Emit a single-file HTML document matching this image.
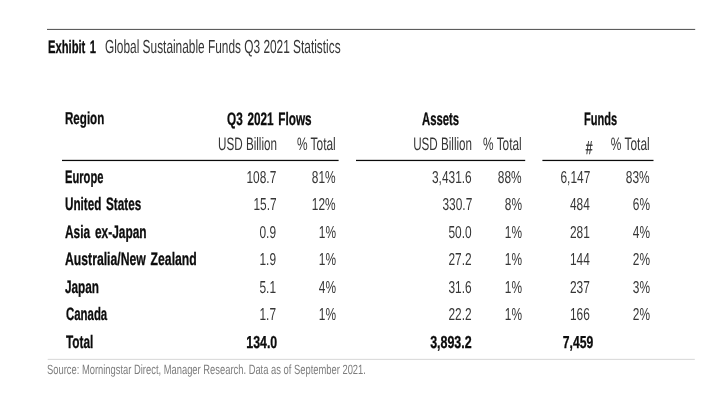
<!DOCTYPE html>
<html lang="en">
<head>
<meta charset="utf-8">
<title>Exhibit 1 Global Sustainable Funds Q3 2021 Statistics</title>
<style>
html,body{margin:0;padding:0;background:#fff;}
#c{position:relative;width:725px;height:400px;overflow:hidden;background:#fff;font-family:"Liberation Sans", sans-serif;will-change:transform;}
#c span{position:absolute;white-space:pre;line-height:1;text-rendering:geometricPrecision;}
#c i{position:absolute;display:block;}
.l{transform-origin:0 0;}
.r{transform-origin:100% 0;}
.b{font-weight:700;-webkit-text-stroke:0.3px currentColor;word-spacing:0.12em;}
</style>
</head>
<body>
<div id="c">
<svg width="725" height="400" viewBox="0 0 725 400" style="position:absolute;left:0;top:0">
<rect x="47.0" y="28.9" width="648.2" height="1.0" fill="#4c4c4c"/>
<rect x="62.0" y="159.825" width="276.6" height="1.25" fill="#0a0a0a"/>
<rect x="356.0" y="159.825" width="169.2" height="1.25" fill="#0a0a0a"/>
<rect x="542.4" y="159.825" width="111.1" height="1.25" fill="#0a0a0a"/>
<rect x="47.7" y="358.85" width="647.1" height="1.0" fill="#d6d6d6"/>
</svg>
<span class="l b" style="left:48.02px;top:38px;font-size:18.0px;color:#0c0c0c;transform:scaleX(0.6225)">Exhibit 1</span>
<span class="l" style="left:104.87px;top:39px;font-size:18.9px;color:#363636;transform:scaleX(0.6285)">Global Sustainable Funds Q3 2021 Statistics</span>
<span class="l b" style="left:65.21px;top:110px;font-size:17.2px;color:#0c0c0c;transform:scaleX(0.6741)">Region</span>
<span class="l b" style="left:226.61px;top:110px;font-size:18.0px;color:#0c0c0c;transform:scaleX(0.6539)">Q3 2021 Flows</span>
<span class="l b" style="left:421.59px;top:110px;font-size:18.0px;color:#0c0c0c;transform:scaleX(0.6286)">Assets</span>
<span class="l b" style="left:583.73px;top:110px;font-size:18.0px;color:#0c0c0c;transform:scaleX(0.6135)">Funds</span>
<span class="r" style="right:447.87px;top:135px;font-size:18.0px;color:#363636;transform:scaleX(0.6482)">USD Billion</span>
<span class="r" style="right:389.2px;top:135px;font-size:18.0px;color:#363636;transform:scaleX(0.6608)">% Total</span>
<span class="r" style="right:252.57px;top:135px;font-size:18.0px;color:#363636;transform:scaleX(0.647)">USD Billion</span>
<span class="r" style="right:203.01px;top:135px;font-size:18.0px;color:#363636;transform:scaleX(0.659)">% Total</span>
<span class="r" style="right:131.95px;top:139px;font-size:19.0px;color:#1e1e1e;-webkit-text-stroke:0.25px currentColor;transform:scaleX(0.6381)">#</span>
<span class="r" style="right:75.0px;top:135px;font-size:18.0px;color:#363636;transform:scaleX(0.6626)">% Total</span>
<span class="l b" style="left:65.23px;top:168px;font-size:18.0px;color:#0c0c0c;transform:scaleX(0.6191)">Europe</span>
<span class="l b" style="left:65.35px;top:195px;font-size:18.0px;color:#0c0c0c;transform:scaleX(0.6502)">United States</span>
<span class="l b" style="left:64.77px;top:223px;font-size:18.0px;color:#0c0c0c;transform:scaleX(0.662)">Asia ex-Japan</span>
<span class="l b" style="left:64.76px;top:250px;font-size:18.0px;color:#0c0c0c;transform:scaleX(0.6784)">Australia/New Zealand</span>
<span class="l b" style="left:65.24px;top:278px;font-size:18.0px;color:#0c0c0c;transform:scaleX(0.6542)">Japan</span>
<span class="l b" style="left:65.52px;top:305px;font-size:18.0px;color:#0c0c0c;transform:scaleX(0.6335)">Canada</span>
<span class="l b" style="left:65.84px;top:333px;font-size:18.0px;color:#0c0c0c;transform:scaleX(0.6559)">Total</span>
<span class="r" style="right:448.41px;top:169px;font-size:17.3px;color:#363636;transform:scaleX(0.688)">108.7</span>
<span class="r" style="right:389.59px;top:169px;font-size:17.3px;color:#363636;transform:scaleX(0.688)">81%</span>
<span class="r" style="right:253.14px;top:169px;font-size:17.3px;color:#363636;transform:scaleX(0.688)">3,431.6</span>
<span class="r" style="right:203.39px;top:169px;font-size:17.3px;color:#363636;transform:scaleX(0.688)">88%</span>
<span class="r" style="right:134.71px;top:169px;font-size:17.3px;color:#363636;transform:scaleX(0.688)">6,147</span>
<span class="r" style="right:75.39px;top:169px;font-size:17.3px;color:#363636;transform:scaleX(0.688)">83%</span>
<span class="r" style="right:448.49px;top:196px;font-size:17.3px;color:#363636;transform:scaleX(0.688)">15.7</span>
<span class="r" style="right:389.59px;top:196px;font-size:17.3px;color:#363636;transform:scaleX(0.688)">12%</span>
<span class="r" style="right:252.91px;top:196px;font-size:17.3px;color:#363636;transform:scaleX(0.688)">330.7</span>
<span class="r" style="right:203.29px;top:196px;font-size:17.3px;color:#363636;transform:scaleX(0.688)">8%</span>
<span class="r" style="right:134.99px;top:196px;font-size:17.3px;color:#363636;transform:scaleX(0.688)">484</span>
<span class="r" style="right:75.29px;top:196px;font-size:17.3px;color:#363636;transform:scaleX(0.688)">6%</span>
<span class="r" style="right:448.56px;top:224px;font-size:17.3px;color:#363636;transform:scaleX(0.688)">0.9</span>
<span class="r" style="right:389.49px;top:224px;font-size:17.3px;color:#363636;transform:scaleX(0.688)">1%</span>
<span class="r" style="right:253.16px;top:224px;font-size:17.3px;color:#363636;transform:scaleX(0.688)">50.0</span>
<span class="r" style="right:203.29px;top:224px;font-size:17.3px;color:#363636;transform:scaleX(0.688)">1%</span>
<span class="r" style="right:134.82px;top:224px;font-size:17.3px;color:#363636;transform:scaleX(0.688)">281</span>
<span class="r" style="right:75.29px;top:224px;font-size:17.3px;color:#363636;transform:scaleX(0.688)">4%</span>
<span class="r" style="right:448.56px;top:251px;font-size:17.3px;color:#363636;transform:scaleX(0.688)">1.9</span>
<span class="r" style="right:389.49px;top:251px;font-size:17.3px;color:#363636;transform:scaleX(0.688)">1%</span>
<span class="r" style="right:252.99px;top:251px;font-size:17.3px;color:#363636;transform:scaleX(0.688)">27.2</span>
<span class="r" style="right:203.29px;top:251px;font-size:17.3px;color:#363636;transform:scaleX(0.688)">1%</span>
<span class="r" style="right:134.99px;top:251px;font-size:17.3px;color:#363636;transform:scaleX(0.688)">144</span>
<span class="r" style="right:75.29px;top:251px;font-size:17.3px;color:#363636;transform:scaleX(0.688)">2%</span>
<span class="r" style="right:448.56px;top:279px;font-size:17.3px;color:#363636;transform:scaleX(0.688)">5.1</span>
<span class="r" style="right:389.49px;top:279px;font-size:17.3px;color:#363636;transform:scaleX(0.688)">4%</span>
<span class="r" style="right:252.99px;top:279px;font-size:17.3px;color:#363636;transform:scaleX(0.688)">31.6</span>
<span class="r" style="right:203.29px;top:279px;font-size:17.3px;color:#363636;transform:scaleX(0.688)">1%</span>
<span class="r" style="right:134.82px;top:279px;font-size:17.3px;color:#363636;transform:scaleX(0.688)">237</span>
<span class="r" style="right:75.29px;top:279px;font-size:17.3px;color:#363636;transform:scaleX(0.688)">3%</span>
<span class="r" style="right:448.56px;top:306px;font-size:17.3px;color:#363636;transform:scaleX(0.688)">1.7</span>
<span class="r" style="right:389.49px;top:306px;font-size:17.3px;color:#363636;transform:scaleX(0.688)">1%</span>
<span class="r" style="right:252.99px;top:306px;font-size:17.3px;color:#363636;transform:scaleX(0.688)">22.2</span>
<span class="r" style="right:203.29px;top:306px;font-size:17.3px;color:#363636;transform:scaleX(0.688)">1%</span>
<span class="r" style="right:134.82px;top:306px;font-size:17.3px;color:#363636;transform:scaleX(0.688)">166</span>
<span class="r" style="right:75.29px;top:306px;font-size:17.3px;color:#363636;transform:scaleX(0.688)">2%</span>
<span class="r b" style="right:447.76px;top:334px;font-size:17.3px;color:#0c0c0c;transform:scaleX(0.7157)">134.0</span>
<span class="r b" style="right:252.92px;top:334px;font-size:17.3px;color:#0c0c0c;transform:scaleX(0.7204)">3,893.2</span>
<span class="r b" style="right:131.77px;top:334px;font-size:17.3px;color:#0c0c0c;transform:scaleX(0.7042)">7,459</span>
<span class="l" style="left:47.47px;top:363px;font-size:13.4px;color:#7d7d7d;transform:scaleX(0.7001)">Source: Morningstar Direct, Manager Research. Data as of September 2021.</span>
</div>
</body>
</html>
